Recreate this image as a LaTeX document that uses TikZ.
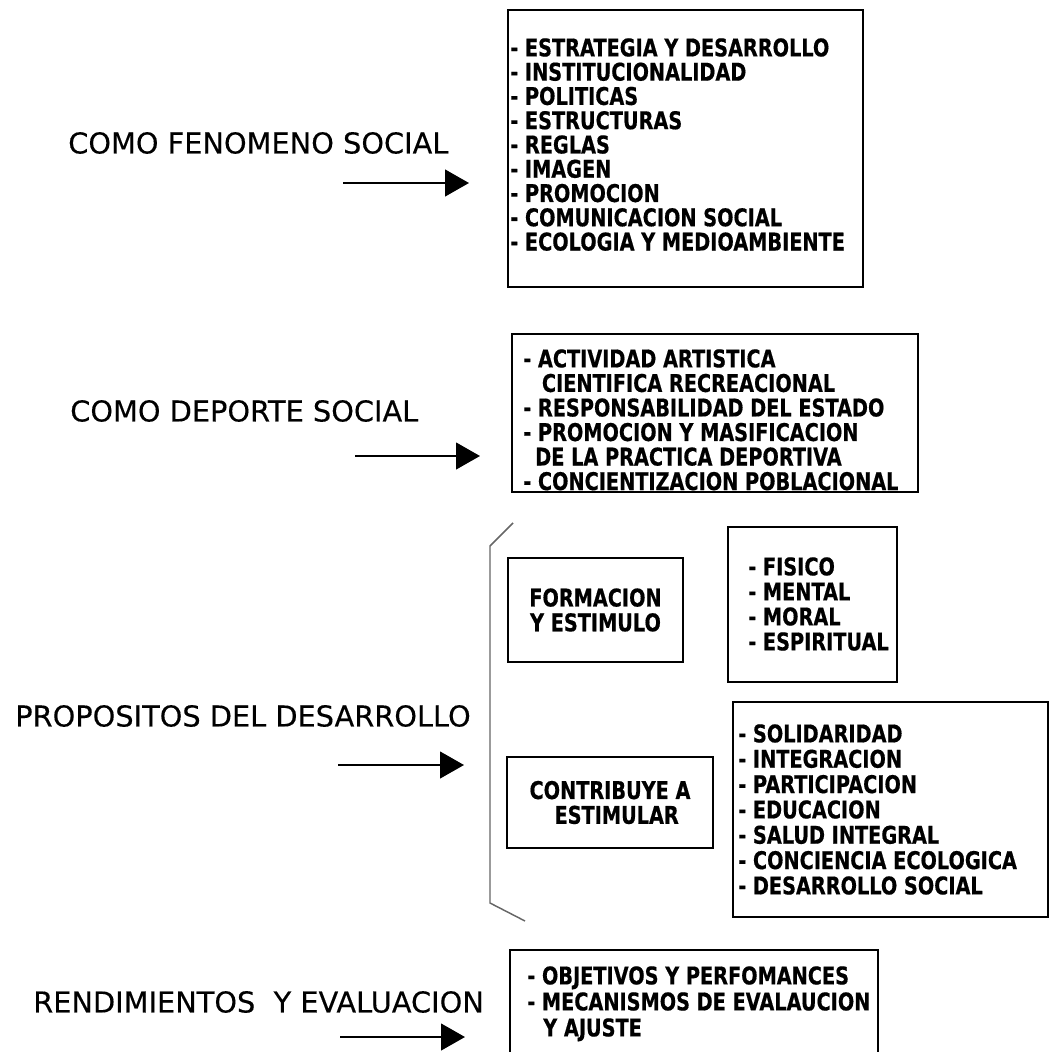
\documentclass[tikz,border=0pt]{standalone}
\usepackage{fontspec}
\usetikzlibrary{arrows.meta,fit}
\newfontfamily\lblfont[FakeBold=0.3]{DejaVu Sans}
\newfontfamily\bxfont[FakeStretch=0.79,FakeBold=0.5]{DejaVu Sans Bold}
\tikzset{
  lbl/.style={anchor=west,inner sep=0pt,font=\lblfont\fontsize{21.6}{26}\selectfont},
  boxframe/.style={draw=black,line width=1.6pt,inner sep=0pt,rectangle},
  btext/.style={anchor=north west,inner sep=0pt,align=left,font=\bxfont\fontsize{18.3}{18.4}\selectfont},
  ctext/.style={inner sep=0pt,align=center,font=\bxfont\fontsize{18.3}{18.6}\selectfont},
  bigarrow/.style={line width=1.8pt,-{Triangle[length=18pt,width=20pt]}},
  bracket/.style={draw=black!60,line width=1.1pt}
}
\begin{document}
\begin{tikzpicture}[x=0.75pt,y=-0.75pt]
\useasboundingbox (0,0) rectangle (1050,1052);
\clip (0,0) rectangle (1050,1052);

% left labels
\node[lbl] (l1) at (68,143) {COMO FENOMENO SOCIAL};
\node[lbl] (l2) at (70,411) {COMO DEPORTE SOCIAL};
\node[lbl] (l3) at (15,716) {PROPOSITOS DEL DESARROLLO};
\node[lbl] (l4) at (33,1002) {RENDIMIENTOS\ \ Y EVALUACION};

% arrows
\coordinate (a1s) at (343,183); \coordinate (a1e) at (469,183);
\coordinate (a2s) at (355,456); \coordinate (a2e) at (480,456);
\coordinate (a3s) at (338,765); \coordinate (a3e) at (464,765);
\coordinate (a4s) at (340,1037); \coordinate (a4e) at (465,1037);
\draw[bigarrow] (a1s) -- (a1e);
\draw[bigarrow] (a2s) -- (a2e);
\draw[bigarrow] (a3s) -- (a3e);
\draw[bigarrow] (a4s) -- (a4e);

% box 1
\node[boxframe,fit={(508,10) (863,287)}] (b1) {};
\node[btext,font=\bxfont\fontsize{18.3}{18.2}\selectfont] (t1) at (510,38) {- ESTRATEGIA Y DESARROLLO\\- INSTITUCIONALIDAD\\- POLITICAS\\- ESTRUCTURAS\\- REGLAS\\- IMAGEN\\- PROMOCION\\- COMUNICACION SOCIAL\\- ECOLOGIA Y MEDIOAMBIENTE};

% box 2
\node[boxframe,fit={(512,334) (918,492)}] (b2) {};
\node[btext,font=\bxfont\fontsize{18.3}{18.4}\selectfont] (t2) at (523,349) {- ACTIVIDAD ARTISTICA\\\hspace*{14pt}CIENTIFICA RECREACIONAL\\- RESPONSABILIDAD DEL ESTADO\\- PROMOCION Y MASIFICACION\\\hspace*{9pt}DE LA PRACTICA DEPORTIVA\\- CONCIENTIZACION POBLACIONAL};

% bracket
\coordinate (k1) at (513,523);
\coordinate (k2) at (490,546);
\coordinate (k3) at (490,903);
\coordinate (k4) at (525,921);
\draw[bracket] (k1) -- (k2) -- (k3) -- (k4);

% formacion
\node[boxframe,fit={(508,558) (683,662)}] (b3) {};
\node[ctext] (t3) at (b3.center) {FORMACION\\Y ESTIMULO};

% fisico
\node[boxframe,fit={(728,527) (897,682)}] (b4) {};
\node[btext,font=\bxfont\fontsize{18.3}{18.75}\selectfont] (t4) at (748,557) {- FISICO\\- MENTAL\\- MORAL\\- ESPIRITUAL};

% contribuye
\node[boxframe,fit={(507,757) (713,848)}] (b5) {};
\node[ctext] (t5) at (b5.center) {CONTRIBUYE A\\\hspace*{10pt}ESTIMULAR};

% solidaridad
\node[boxframe,fit={(733,702) (1048,917)}] (b6) {};
\node[btext,font=\bxfont\fontsize{18.3}{19}\selectfont] (t6) at (738,724) {- SOLIDARIDAD\\- INTEGRACION\\- PARTICIPACION\\- EDUCACION\\- SALUD INTEGRAL\\- CONCIENCIA ECOLOGICA\\- DESARROLLO SOCIAL};

% box rendimientos
\node[boxframe,fit={(510,950) (878,1070)}] (b7) {};
\node[btext,font=\bxfont\fontsize{18.3}{19.5}\selectfont] (t7) at (527,966) {- OBJETIVOS Y PERFOMANCES\\- MECANISMOS DE EVALAUCION\\\hspace*{12pt}Y AJUSTE};
\end{tikzpicture}
\end{document}
